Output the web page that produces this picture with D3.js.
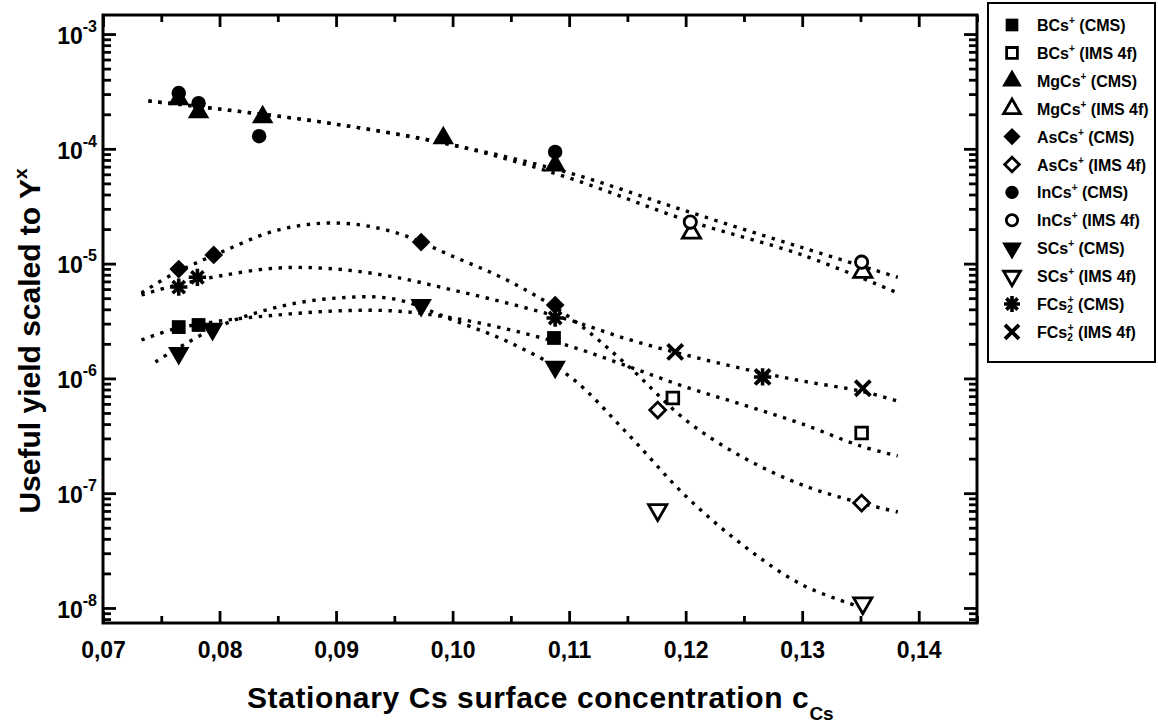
<!DOCTYPE html>
<html>
<head>
<meta charset="utf-8">
<script src="https://cdn.jsdelivr.net/npm/d3@7"></script>
<style>
  body { margin: 0; background: #fff; }
  svg { display: block; font-family: "Liberation Sans", Arial, sans-serif; }
</style>
</head>
<body>
<script>
// measured points (x = stationary Cs surface concentration, y = useful yield)
const bcsCmsX = [0.0765, 0.0782, 0.1087];
const bcsCmsY = [2.8e-6, 2.92e-6, 2.25e-6];
const bcsImsX = [0.1189, 0.1351];
const bcsImsY = [6.75e-7, 3.34e-7];

const mgCmsX = [0.0765, 0.0782, 0.0837, 0.0992, 0.1088];
const mgCmsY = [2.71e-4, 2.09e-4, 1.89e-4, 1.24e-4, 7.2e-5];
const mgImsX = [0.1205, 0.1352];
const mgImsY = [1.85e-5, 8.45e-6];

const asCmsX = [0.0765, 0.0795, 0.0973, 0.1088];
const asCmsY = [8.97e-6, 1.19e-5, 1.54e-5, 4.35e-6];
const asImsX = [0.1176, 0.1351];
const asImsY = [5.3e-7, 8.2e-8];

const inCmsX = [0.0765, 0.0782, 0.0834, 0.1088];
const inCmsY = [3.06e-4, 2.5e-4, 1.29e-4, 9.4e-5];
const inImsX = [0.1204, 0.1351];
const inImsY = [2.3e-5, 1.03e-5];

const sCmsX = [0.0765, 0.0794, 0.0973, 0.1088];
const sCmsY = [1.66e-6, 2.69e-6, 4.35e-6, 1.26e-6];
const sImsX = [0.1176, 0.1352];
const sImsY = [7.14e-8, 1.1e-8];

const fCmsX = [0.0765, 0.0781, 0.1088, 0.1266];
const fCmsY = [6.25e-6, 7.6e-6, 3.36e-6, 1.03e-6];
const fImsX = [0.1191, 0.1266, 0.1352];
const fImsY = [1.7e-6, 1.03e-6, 8.2e-7];

// dotted fit curves
const topFitX = [0.0739, 0.08, 0.09, 0.10, 0.11, 0.12, 0.13, 0.1382];
const inFitY = [2.61e-4, 2.22e-4, 1.64e-4, 1.08e-4, 6.17e-5, 2.88e-5, 1.38e-5, 7.6e-6];
const mgFitY = [2.61e-4, 2.22e-4, 1.64e-4, 1.08e-4, 5.57e-5, 2.4e-5, 1.19e-5, 5.55e-6];

const midFitX = [0.0733, 0.076, 0.08, 0.085, 0.09, 0.095, 0.10, 0.105, 0.11, 0.115, 0.12, 0.125, 0.13, 0.135, 0.1382];
const asFitY = [5.55e-6, 8.11e-6, 1.24e-5, 1.96e-5, 2.26e-5, 1.88e-5, 1.16e-5, 6.91e-6, 3.43e-6, 1.3e-6, 4.34e-7, 2.03e-7, 1.18e-7, 8.22e-8, 6.86e-8];
const fFitY = [5.33e-6, 6.38e-6, 7.8e-6, 9.16e-6, 8.97e-6, 7.64e-6, 5.89e-6, 4.45e-6, 3.23e-6, 2.2e-6, 1.6e-6, 1.21e-6, 9.49e-7, 7.76e-7, 6.35e-7];
const bFitY = [2.16e-6, 2.67e-6, 3.16e-6, 3.57e-6, 3.87e-6, 3.87e-6, 3.36e-6, 2.64e-6, 1.92e-6, 1.28e-6, 8.41e-7, 5.86e-7, 4.01e-7, 2.58e-7, 2.11e-7];

const sFitX = [0.0745, 0.076, 0.08, 0.085, 0.09, 0.095, 0.10, 0.105, 0.11, 0.115, 0.12, 0.125, 0.13, 0.1355];
const sFitY = [1.39e-6, 1.73e-6, 2.86e-6, 4.19e-6, 5.01e-6, 4.92e-6, 3.23e-6, 2.03e-6, 1.05e-6, 3.31e-7, 9.46e-8, 3.47e-8, 1.59e-8, 9.8e-9];

const xMajor = [0.07, 0.08, 0.09, 0.10, 0.11, 0.12, 0.13, 0.14];
const xMinor = [0.075, 0.085, 0.095, 0.105, 0.115, 0.125, 0.135, 0.145];
const yDecades = [-8, -7, -6, -5, -4, -3];

const width = 1158, height = 727;
const svg = d3.select("body").append("svg")
    .attr("width", width)
    .attr("height", height);

const x = d3.scaleLinear().domain([0.07, 0.145]).range([103, 977]);
const y = d3.scaleLog().domain([Math.pow(10, -8.131), Math.pow(10, -2.834)]).range([623, 15]);

const yMajor = yDecades.map(d => Math.pow(10, d));
const yMinor = [];
yDecades.concat([-9]).forEach(d => {
    for (let m = 2; m <= 9; m++) {
        const v = m * Math.pow(10, d);
        if (v > y.domain()[0] && v < y.domain()[1]) yMinor.push(v);
    }
});

function styleAxis(g) {
    g.select(".domain").remove();
    g.selectAll(".tick line").attr("stroke", "#000").attr("stroke-width", 2.8);
}

// bottom axis with labels
svg.append("g")
    .attr("transform", "translate(0,623)")
    .call(d3.axisBottom(x).tickValues(xMajor).tickSize(-12).tickPadding(19)
        .tickFormat(d => d3.format(".2f")(d).replace(".", ",")))
    .call(styleAxis)
    .selectAll("text")
        .attr("font-size", 23)
        .attr("font-weight", "bold")
        .attr("fill", "#000");
svg.append("g")
    .attr("transform", "translate(0,623)")
    .call(d3.axisBottom(x).tickValues(xMinor).tickSize(-7).tickFormat(""))
    .call(styleAxis);
svg.append("g")
    .attr("transform", "translate(0,15)")
    .call(d3.axisTop(x).tickValues(xMajor).tickSize(-12).tickFormat(""))
    .call(styleAxis);
svg.append("g")
    .attr("transform", "translate(0,15)")
    .call(d3.axisTop(x).tickValues(xMinor).tickSize(-7).tickFormat(""))
    .call(styleAxis);

// left axis with 10^n labels
const yLeft = svg.append("g")
    .attr("transform", "translate(103,0)")
    .call(d3.axisLeft(y).tickValues(yMajor).tickSize(-13).tickPadding(6).tickFormat(""))
    .call(styleAxis);
yLeft.selectAll(".tick text").each(function(d) {
    const t = d3.select(this)
        .attr("font-size", 23)
        .attr("font-weight", "bold")
        .attr("fill", "#000")
        .attr("dy", "0.4em");
    t.append("tspan").text("10");
    t.append("tspan")
        .attr("font-size", 16)
        .attr("dy", "-0.75em")
        .text("-" + Math.round(-Math.log10(d)));
});
svg.append("g")
    .attr("transform", "translate(103,0)")
    .call(d3.axisLeft(y).tickValues(yMinor).tickSize(-8).tickFormat(""))
    .call(styleAxis);
svg.append("g")
    .attr("transform", "translate(977,0)")
    .call(d3.axisRight(y).tickValues(yMajor).tickSize(-13).tickFormat(""))
    .call(styleAxis);
svg.append("g")
    .attr("transform", "translate(977,0)")
    .call(d3.axisRight(y).tickValues(yMinor).tickSize(-8).tickFormat(""))
    .call(styleAxis);

// frame
svg.append("rect")
    .attr("x", 103).attr("y", 15)
    .attr("width", 874).attr("height", 608)
    .attr("fill", "none")
    .attr("stroke", "#000")
    .attr("stroke-width", 3);

// fit curves
const fits = [
    [topFitX, inFitY], [topFitX, mgFitY],
    [midFitX, asFitY], [midFitX, fFitY], [midFitX, bFitY],
    [sFitX, sFitY]
];
const line = d3.line()
    .x(d => x(d[0]))
    .y(d => y(d[1]))
    .curve(d3.curveCatmullRom);
fits.forEach(([xs, ys]) => {
    svg.append("path")
        .attr("d", line(xs.map((v, i) => [v, ys[i]])))
        .attr("fill", "none")
        .attr("stroke", "#000")
        .attr("stroke-width", 3.4)
        .attr("stroke-dasharray", "3.4,6.6");
});

// marker shapes
const asterisk4 = {
    draw(ctx, size) {
        const r = Math.sqrt(size) / 2;
        for (let a = 0; a < 4; a++) {
            const ang = a * Math.PI / 4;
            ctx.moveTo(-r * Math.cos(ang), -r * Math.sin(ang));
            ctx.lineTo(r * Math.cos(ang), r * Math.sin(ang));
        }
    }
};
const times2 = {
    draw(ctx, size) {
        const r = Math.sqrt(size) / 2 * Math.SQRT1_2;
        ctx.moveTo(-r, -r); ctx.lineTo(r, r);
        ctx.moveTo(r, -r); ctx.lineTo(-r, r);
    }
};
const shapes = {
    square:   { type: d3.symbolSquare,   size: 190, rot: 0 },
    triUp:    { type: d3.symbolTriangle, size: 200, rot: 0 },
    diamond:  { type: d3.symbolSquare,   size: 175, rot: 45 },
    circle:   { type: d3.symbolCircle,   size: 165, rot: 0 },
    triDown:  { type: d3.symbolTriangle, size: 200, rot: 180 },
    asterisk: { type: asterisk4,         size: 300, rot: 0, line: true },
    times:    { type: times2,            size: 460, rot: 0, line: true }
};

const series = [
    { label: "BCs", sub: "", tag: "(CMS)", xs: bcsCmsX, ys: bcsCmsY, shape: "square", filled: true },
    { label: "BCs", sub: "", tag: "(IMS 4f)", xs: bcsImsX, ys: bcsImsY, shape: "square", filled: false },
    { label: "MgCs", sub: "", tag: "(CMS)", xs: mgCmsX, ys: mgCmsY, shape: "triUp", filled: true },
    { label: "MgCs", sub: "", tag: "(IMS 4f)", xs: mgImsX, ys: mgImsY, shape: "triUp", filled: false },
    { label: "AsCs", sub: "", tag: "(CMS)", xs: asCmsX, ys: asCmsY, shape: "diamond", filled: true },
    { label: "AsCs", sub: "", tag: "(IMS 4f)", xs: asImsX, ys: asImsY, shape: "diamond", filled: false },
    { label: "InCs", sub: "", tag: "(CMS)", xs: inCmsX, ys: inCmsY, shape: "circle", filled: true },
    { label: "InCs", sub: "", tag: "(IMS 4f)", xs: inImsX, ys: inImsY, shape: "circle", filled: false },
    { label: "SCs", sub: "", tag: "(CMS)", xs: sCmsX, ys: sCmsY, shape: "triDown", filled: true },
    { label: "SCs", sub: "", tag: "(IMS 4f)", xs: sImsX, ys: sImsY, shape: "triDown", filled: false },
    { label: "FCs", sub: "2", tag: "(CMS)", xs: fCmsX, ys: fCmsY, shape: "asterisk", filled: true },
    { label: "FCs", sub: "2", tag: "(IMS 4f)", xs: fImsX, ys: fImsY, shape: "times", filled: true }
];

function drawMarker(g, s, cx, cy, scale) {
    const sh = shapes[s.shape];
    const k = scale || 1;
    const p = g.append("path")
        .attr("d", d3.symbol().type(sh.type).size(sh.size * k * k)())
        .attr("transform", `translate(${cx},${cy}) rotate(${sh.rot})`);
    if (sh.line) {
        p.attr("fill", "none").attr("stroke", "#000")
         .attr("stroke-width", s.shape === "times" ? 3.8 : 3.6);
    } else if (s.filled) {
        p.attr("fill", "#000").attr("stroke", "none");
    } else {
        p.attr("fill", "#fff").attr("stroke", "#000").attr("stroke-width", 2.8)
         .attr("d", d3.symbol().type(sh.type).size(sh.size * k * k * 0.72)());
    }
}

const marks = svg.append("g");
series.forEach(s => {
    s.xs.forEach((v, i) => drawMarker(marks, s, x(v), y(s.ys[i])));
});

// legend
const legend = svg.append("g");
legend.append("rect")
    .attr("x", 988).attr("y", 3)
    .attr("width", 167).attr("height", 359)
    .attr("fill", "#fff")
    .attr("stroke", "#000")
    .attr("stroke-width", 2);
series.forEach((s, i) => {
    const cy = 25 + 27.9 * i;
    drawMarker(legend, s, 1012, cy, 0.92);
    const t = legend.append("text")
        .attr("x", 1037).attr("y", cy + 6)
        .attr("font-size", 16)
        .attr("font-weight", "bold")
        .attr("fill", "#000");
    t.append("tspan").text(s.label);
    if (s.sub) {
        t.append("tspan").attr("font-size", 10).attr("dy", 3).text(s.sub);
        t.append("tspan").attr("font-size", 10).attr("dx", -5).attr("dy", -10).text("+");
        t.append("tspan").attr("dy", 7).text(" " + s.tag);
    } else {
        t.append("tspan").attr("font-size", 10).attr("dy", -7).text("+");
        t.append("tspan").attr("dy", 7).text(" " + s.tag);
    }
});

// axis titles
const xt = svg.append("text")
    .attr("x", 247).attr("y", 708)
    .attr("font-size", 30)
    .attr("font-weight", "bold")
    .attr("fill", "#000");
xt.append("tspan").attr("letter-spacing", 0.6).text("Stationary Cs surface concentration c");
xt.append("tspan").attr("font-size", 19).attr("dy", 12).text("Cs");

const yt = svg.append("text")
    .attr("transform", "translate(40,341) rotate(-90)")
    .attr("text-anchor", "middle")
    .attr("font-size", 30)
    .attr("font-weight", "bold")
    .attr("fill", "#000");
yt.append("tspan").text("Useful yield scaled to Y");
yt.append("tspan").attr("font-size", 19).attr("dy", -13).text("x");
</script>
</body>
</html>
